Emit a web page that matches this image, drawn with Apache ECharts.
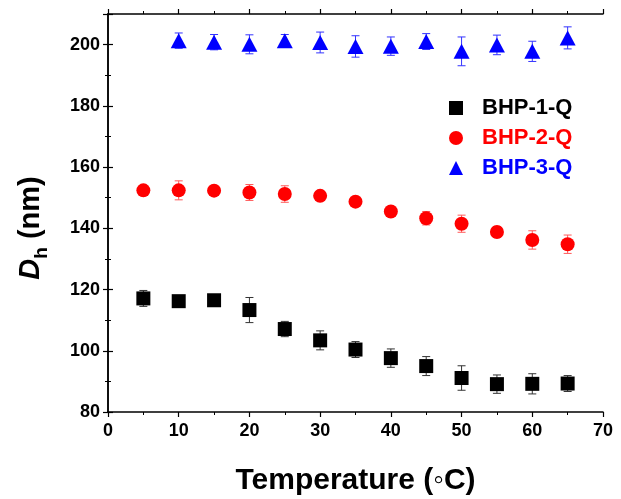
<!DOCTYPE html>
<html>
<head>
<meta charset="utf-8">
<script src="https://cdn.jsdelivr.net/npm/echarts@6/dist/echarts.min.js"></script>
<style>
html,body{margin:0;padding:0;background:#fff;}
#chart{width:621px;height:499px;}
</style>
</head>
<body>
<div id="chart"></div>
<script>
var temps12 = [5,10,15,20,25,30,35,40,45,50,55,60,65];
var temps3 = [10,15,20,25,30,35,40,45,50,55,60,65];
var bhp1 = [117.1,116.2,116.5,113.3,107.1,103.4,100.4,97.6,95.0,91.1,89.1,89.2,89.3];
var bhp1Err = [2.6,1.0,1.0,4.1,2.5,3.1,2.6,3.0,3.1,4.0,3.0,3.3,2.6];
var bhp2 = [152.4,152.4,152.3,151.7,151.2,150.6,148.7,145.5,143.3,141.5,138.8,136.2,134.8];
var bhp2Err = [1.0,3.1,1.0,2.6,2.7,1.5,1.0,1.0,2.2,2.8,1.8,3.0,3.0];
var bhp3 = [201.3,200.8,200.1,201.3,200.7,199.4,199.5,201.0,197.8,199.9,197.8,202.2];
var bhp3Err = [2.5,2.5,3.1,2.0,3.4,3.5,3.0,2.6,4.7,3.2,3.3,3.6];
var seriesNames = ['BHP-1-Q','BHP-2-Q','BHP-3-Q'];
var seriesColors = ['#000000','#ff0000','#0000ff'];
var errColors = ['#333333','#ff5a5a','#3333ff'];

function pts(xs, ys){ return xs.map(function(x,i){return [x, ys[i]];}); }
function errPts(xs, ys, es){ return xs.map(function(x,i){return [x, ys[i], es[i]];}); }

function errSeries(data, color){
  return {
    type:'custom', silent:true, z:1,
    data:data,
    encode:{x:0,y:1},
    renderItem:function(params, api){
      var x = api.value(0), y = api.value(1), e = api.value(2);
      var top = api.coord([x, y+e]);
      var bot = api.coord([x, y-e]);
      var hw = 4;
      var st = {stroke:color, lineWidth:1};
      return {type:'group', children:[
        {type:'line', shape:{x1:top[0],y1:top[1],x2:bot[0],y2:bot[1]}, style:st},
        {type:'line', shape:{x1:top[0]-hw,y1:top[1],x2:top[0]+hw,y2:top[1]}, style:st},
        {type:'line', shape:{x1:bot[0]-hw,y1:bot[1],x2:bot[0]+hw,y2:bot[1]}, style:st}
      ]};
    }
  };
}

var font = 'Liberation Sans, Arial, sans-serif';
var chart = echarts.init(document.getElementById('chart'));
var axisLine = {show:true, lineStyle:{color:'#000', width:1.5}};
var axisTick = {show:true, inside:false, length:5, lineStyle:{color:'#000', width:1.2}};
var minorTick = {show:true, splitNumber:2, length:3, lineStyle:{color:'#000', width:1}};
var labelStyle = {color:'#000', fontFamily:font, fontWeight:'bold', fontSize:18};

chart.setOption({
  backgroundColor:'#ffffff',
  animation:false,
  grid:{left:108, right:18, top:14, bottom:87, containLabel:false, outerBoundsMode:'none'},
  legend:{
    orient:'vertical', left:444, top:92, itemGap:8, itemWidth:14, itemHeight:14,
    textStyle:{fontFamily:font, fontWeight:'bold', fontSize:22, padding:[0,0,0,14]},
    data: seriesNames.map(function(n,i){return {name:n, textStyle:{color:seriesColors[i]}};})
  },
  graphic:[{
    type:'text', x:31, y:228, rotation:Math.PI/2,
    style:{
      text:'{i|D}{s|h}{n| (nm)}',
      align:'center', verticalAlign:'middle',
      rich:{
        i:{fontFamily:font, fontWeight:'bold', fontStyle:'italic', fontSize:29, fill:'#000', lineHeight:40, verticalAlign:'middle'},
        s:{fontFamily:font, fontWeight:'bold', fontSize:19, fill:'#000', lineHeight:40, verticalAlign:'bottom'},
        n:{fontFamily:font, fontWeight:'bold', fontSize:29, fill:'#000', lineHeight:40, verticalAlign:'middle'}
      }
    }
  }],
  xAxis:[{
    type:'value', min:0, max:70, interval:10, position:'bottom',
    axisLine:axisLine, axisTick:axisTick, minorTick:minorTick,
    splitLine:{show:false},
    axisLabel:Object.assign({margin:10}, labelStyle),
    name:'Temperature (\u25E6C)', nameLocation:'middle', nameGap:54,
    nameTextStyle:{color:'#000', fontFamily:font, fontWeight:'bold', fontSize:30}
  },{
    type:'value', min:0, max:70, interval:10, position:'top',
    axisLine:axisLine, axisTick:axisTick, minorTick:minorTick,
    splitLine:{show:false}, axisLabel:{show:false}
  }],
  yAxis:[{
    type:'value', min:80, max:210, interval:20, position:'left',
    axisLine:axisLine, axisTick:axisTick, minorTick:minorTick,
    splitLine:{show:false},
    axisLabel:Object.assign({margin:8, formatter:function(v){return v<=200?String(v):'';}}, labelStyle)
  },{
    type:'value', min:80, max:210, interval:20, position:'right',
    axisLine:axisLine, axisTick:axisTick, minorTick:minorTick,
    splitLine:{show:false}, axisLabel:{show:false}
  }],
  series:[
    errSeries(errPts(temps12,bhp1,bhp1Err), errColors[0]),
    errSeries(errPts(temps12,bhp2,bhp2Err), errColors[1]),
    errSeries(errPts(temps3,bhp3,bhp3Err), errColors[2]),
    {name:seriesNames[0], type:'scatter', z:3, symbol:'rect', symbolSize:14, itemStyle:{color:seriesColors[0], opacity:1}, data:pts(temps12,bhp1)},
    {name:seriesNames[1], type:'scatter', z:3, symbol:'circle', symbolSize:14, itemStyle:{color:seriesColors[1], opacity:1}, data:pts(temps12,bhp2)},
    {name:seriesNames[2], type:'scatter', z:3, symbol:'triangle', symbolSize:[16,15], itemStyle:{color:seriesColors[2], opacity:1}, data:pts(temps3,bhp3)}
  ]
});
</script>
</body>
</html>
